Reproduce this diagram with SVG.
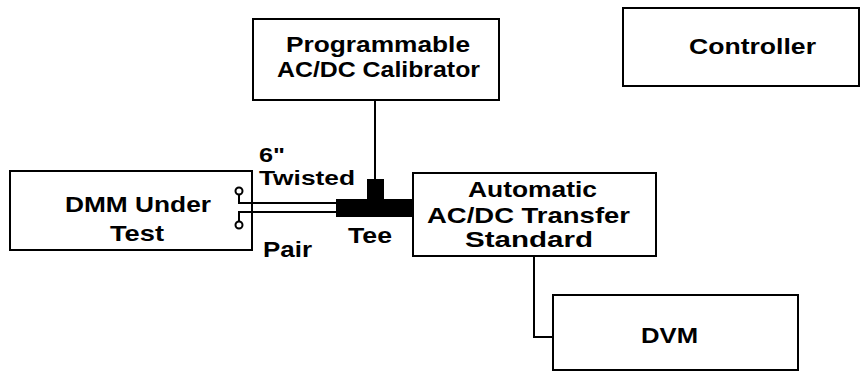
<svg xmlns="http://www.w3.org/2000/svg" width="860" height="371" viewBox="0 0 860 371">
<style>
.box{fill:#fff;stroke:#000;stroke-width:2}
.t{font-family:"Liberation Sans",Arial,sans-serif;font-weight:bold;font-size:22px;fill:#000}
.s{font-size:20px}
.c{text-anchor:middle}
.w{fill:none;stroke:#000;stroke-width:2}
</style>
<rect width="860" height="371" fill="#fff"/>
<g id="calibrator">
<rect class="box" x="253" y="19" width="246" height="81"/>
<text class="t c" x="378" y="52" textLength="184" lengthAdjust="spacingAndGlyphs">Programmable</text>
<text class="t c" x="378.5" y="77" textLength="203" lengthAdjust="spacingAndGlyphs">AC/DC Calibrator</text>
</g>
<g id="controller">
<rect class="box" x="623" y="8" width="236" height="78"/>
<text class="t c" x="752.5" y="54" textLength="127" lengthAdjust="spacingAndGlyphs">Controller</text>
</g>
<g id="dmm">
<rect class="box" x="10" y="171" width="242" height="79"/>
<text class="t c" x="138" y="212" textLength="146" lengthAdjust="spacingAndGlyphs">DMM Under</text>
<text class="t c" x="137" y="241" textLength="54" lengthAdjust="spacingAndGlyphs">Test</text>
</g>
<g id="transfer-standard">
<rect class="box" x="413" y="173" width="243" height="83"/>
<text class="t c" x="532.5" y="197" textLength="129" lengthAdjust="spacingAndGlyphs">Automatic</text>
<text class="t c" x="528.5" y="223" textLength="203" lengthAdjust="spacingAndGlyphs">AC/DC Transfer</text>
<text class="t c" x="529" y="247" textLength="128" lengthAdjust="spacingAndGlyphs">Standard</text>
</g>
<g id="dvm">
<rect class="box" x="553" y="295" width="245" height="75"/>
<text class="t c" x="669.5" y="343" textLength="57" lengthAdjust="spacingAndGlyphs">DVM</text>
</g>
<g id="connectors">
<path class="w" d="M375,100 V180"/>
<path class="w" d="M534,256 V337 H553"/>
<path class="w" d="M239,194.5 V203 H337"/>
<path class="w" d="M239,221.5 V212 H337"/>
<circle cx="239" cy="191" r="3.5" fill="#fff" stroke="#000" stroke-width="2"/>
<circle cx="239" cy="225" r="3.5" fill="#fff" stroke="#000" stroke-width="2"/>
</g>
<g id="tee">
<rect x="336" y="199" width="77" height="18" fill="#000"/>
<rect x="367" y="179" width="17" height="21" fill="#000"/>
<text class="t" x="348" y="243" textLength="44" lengthAdjust="spacingAndGlyphs">Tee</text>
</g>
<g id="twisted-pair">
<text class="t s" x="259" y="162" textLength="26" lengthAdjust="spacingAndGlyphs">6"</text>
<text class="t s" x="259" y="185" textLength="96" lengthAdjust="spacingAndGlyphs">Twisted</text>
<text class="t" x="263" y="257" textLength="49" lengthAdjust="spacingAndGlyphs">Pair</text>
</g>
</svg>
